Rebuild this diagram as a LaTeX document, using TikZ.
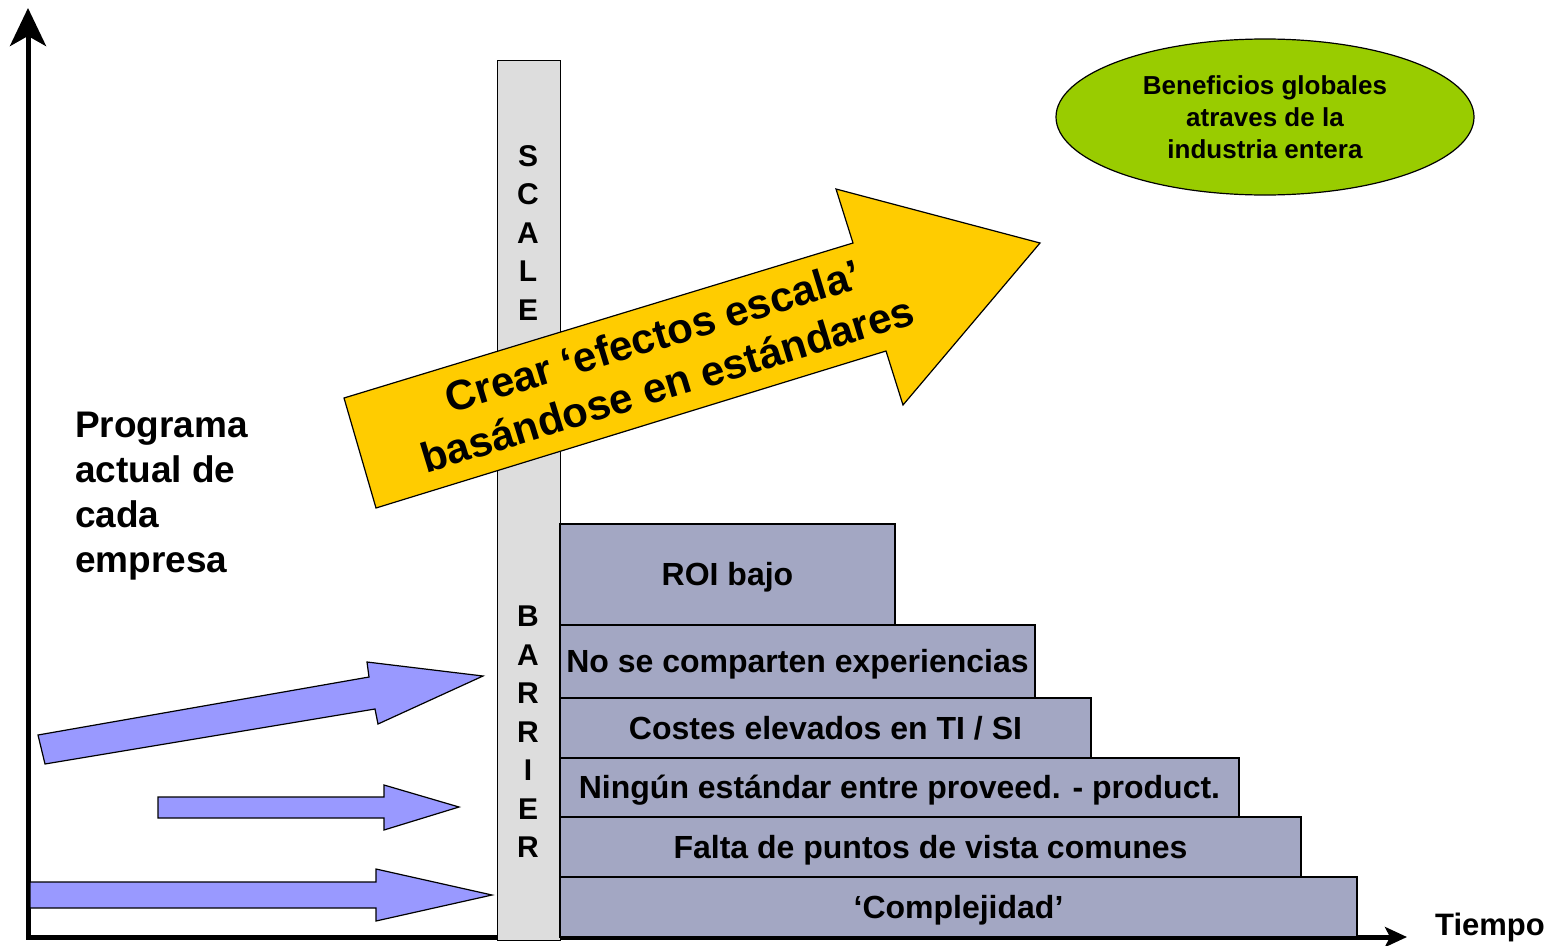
\documentclass[tikz,border=0pt]{standalone}
\usepackage{fontspec}
\setmainfont{Liberation Sans}
\usetikzlibrary{arrows.meta}
\usetikzlibrary{shapes.geometric}
\usetikzlibrary{positioning}
\definecolor{barfill}{HTML}{DDDDDD}
\definecolor{stairfill}{HTML}{A3A7C3}
\definecolor{arrowblue}{HTML}{9999FF}
\definecolor{arrowyellow}{HTML}{FFCC00}
\definecolor{benefitgreen}{HTML}{99CC00}
\newcommand{\fsz}[2]{\fontsize{#1}{#2}\selectfont}

\begin{document}
\begin{tikzpicture} [
  x=1pt, y=-1pt,
  every node/.style={font=\bfseries, inner sep=0},
  axis/.style={line width=5pt},
  stair/.style={draw, fill=stairfill, line width=1.2pt, outer sep=0, text height=22pt, text depth=0pt, font=\bfseries\fsz{32}{38}},
  blue arrow/.style={draw, fill=arrowblue, line width=1.2pt},
  letters/.style={align=center, font=\bfseries\fsz{30}{38.5}}
  ]
  \useasboundingbox (0,0) rectangle (1550,945);
  \coordinate (o) at (28,938);
  \coordinate (ytop) at (28,8);
  \coordinate (xend) at (1407,937);
  \draw [axis, -{Stealth[length=38pt,width=36pt,inset=10pt]}] (o) -- (ytop);
  \draw [axis, -{Stealth[length=22pt,width=20pt,inset=5pt]}] (26,937) -- (xend);
  \node (bar) [draw, fill=barfill, line width=1.2pt, minimum width=63pt, minimum height=880pt, anchor=north west] at (497,60) {};
  \node (scale) [letters] at (528,233) {S\\C\\A\\L\\E};
  \node (barrier) [letters] at (528,732) {B\\A\\R\\R\\I\\E\\R};
  \node (roi) [stair, minimum width=335pt, minimum height=101pt, anchor=north west] at (560,524) {ROI bajo};
  \node (exper) [stair, minimum width=475pt, minimum height=73pt, below=0pt of roi.south west, anchor=north west] {No se comparten experiencias};
  \node (costes) [stair, minimum width=531pt, minimum height=60pt, below=0pt of exper.south west, anchor=north west] {Costes elevados en TI / SI};
  \node (ningun) [stair, minimum width=679pt, minimum height=59pt, below=0pt of costes.south west, anchor=north west] {Ningún estándar entre proveed. - product.};
  \node (falta) [stair, minimum width=741pt, minimum height=60pt, below=0pt of ningun.south west, anchor=north west] {Falta de puntos de vista comunes};
  \node (compl) [stair, minimum width=797pt, minimum height=60pt, below=0pt of falta.south west, anchor=north west] {‘Complejidad’};
  \draw [blue arrow] (38,735) -- (369,677) -- (367,662) -- (483,676) -- (378,724) -- (375,709) -- (45,764) -- cycle;
  \draw [blue arrow] (158,797) -- (384,797) -- (384,785) -- (459,807) -- (384,830) -- (384,818) -- (158,818) -- cycle;
  \draw [blue arrow] (30,882) -- (376,882) -- (376,869) -- (492,895) -- (376,921) -- (376,908) -- (30,908) -- cycle;
  \draw [fill=arrowyellow, line width=1.2pt] (344,398) -- (853,243) -- (836,189) -- (1040,243) -- (903,405) -- (886,351) -- (376,508) -- cycle;
  \node (crear) [rotate=17, align=center, font=\bfseries\fsz{42}{50}] at (660,360) {Crear ‘efectos escala’\\basándose en estándares};
  \node (benef) [ellipse, draw, fill=benefitgreen, line width=1.2pt, minimum width=418pt, minimum height=156pt, align=center, font=\bfseries\fsz{26}{32}] at (1265,117) {Beneficios globales\\atraves de la\\industria entera};
  \node (prog) [align=left, anchor=base west, font=\bfseries\fsz{37}{45}] at (75,572) {Programa\\actual de\\cada\\empresa};
  \node (tiempo) [font=\bfseries\fsz{31}{36}] at (1490,927) {Tiempo};
\end{tikzpicture}
\end{document}
